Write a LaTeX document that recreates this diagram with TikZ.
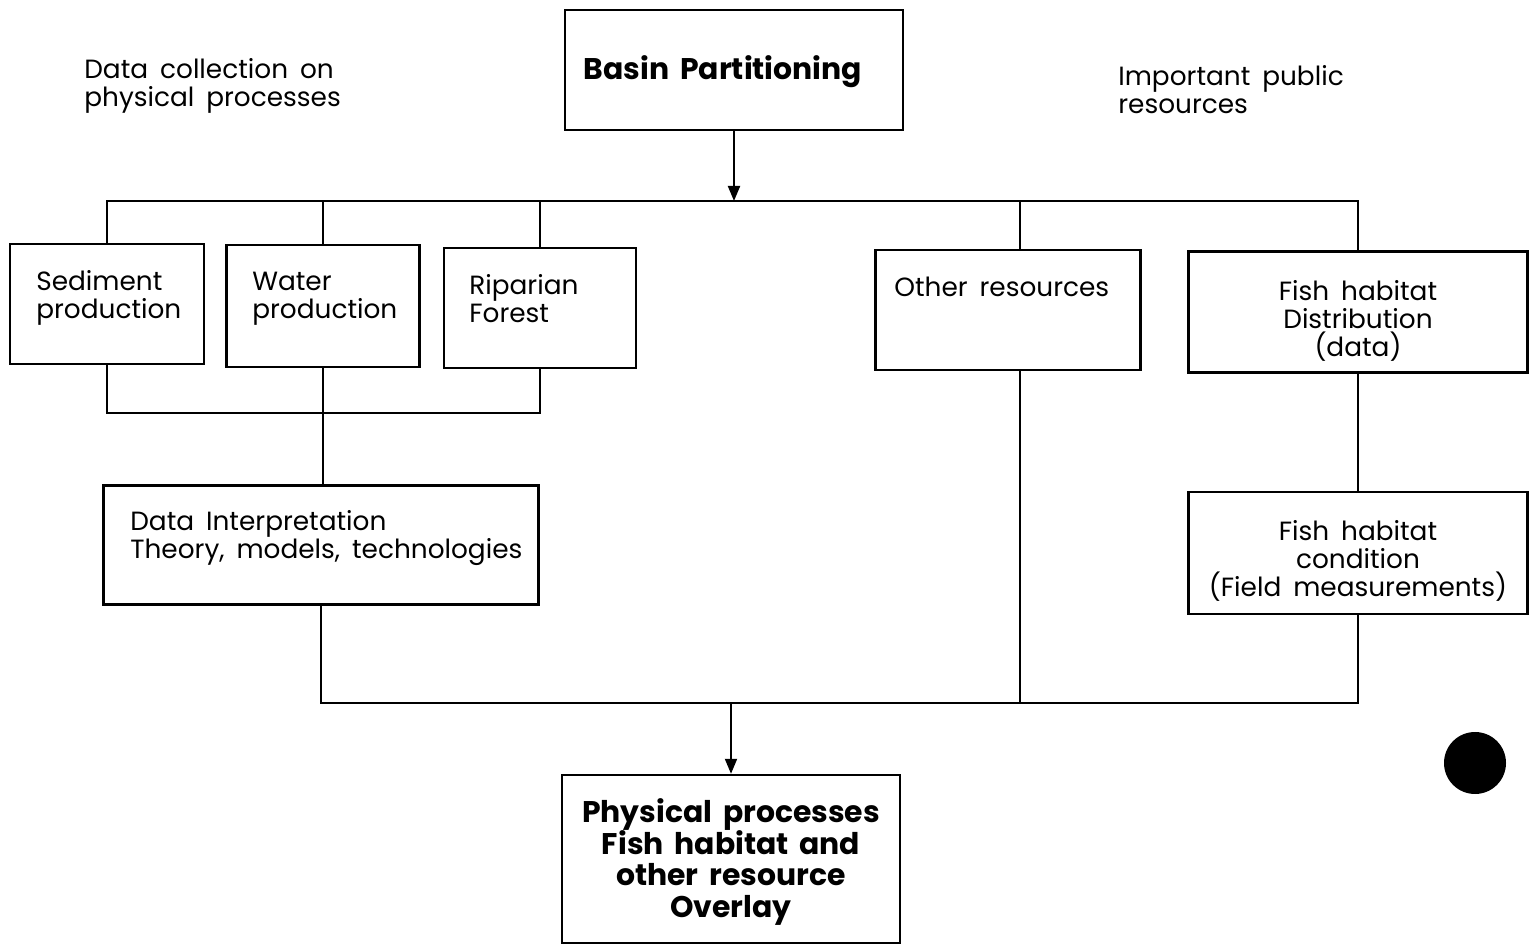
\documentclass[tikz,border=0pt]{standalone}
\usepackage{fontspec}
\setmainfont{Poppins}[WordSpace=1.7]
\usetikzlibrary{arrows.meta, positioning}

\tikzset{
	box/.style={draw, line width=1.4pt, inner sep=0pt},
	txt/.style={inner sep=0pt, font=\fontsize{15}{15.9}\selectfont},
	bigtxt/.style={inner sep=0pt, font=\fontsize{17}{18.2}\selectfont\bfseries},
	link/.style={line width=1.1pt},
	arr/.style={line width=1.1pt, -{Triangle[length=0.3cm, width=0.24cm]}}
}

\begin{document}
\begin{tikzpicture}[x=0.02cm, y=-0.02cm]
				\useasboundingbox (0,0) rectangle (1529,945);

				\node[box, minimum width=6.76cm, minimum height=2.4cm] (basin) at (734,70) {};
				\node[bigtxt] (basintxt) at (723,72) {Basin Partitioning};

				\node[txt, align=left, anchor=north west] (collect) at (84,58) {Data collection on\\physical processes};
				\node[txt, align=left, anchor=north west] (public) at (1118,65) {Important public\\resources};

				\node[box, minimum width=3.88cm, minimum height=2.4cm] (sed) at (107,304) {};
				\node[txt, align=left, anchor=north west] (sedtxt) at (36,270) {Sediment\\production};

				\node[box, minimum width=3.86cm, minimum height=2.44cm] (wat) at (323,306) {};
				\node[txt, align=left, anchor=north west] (wattxt) at (252,272) {Water\\production};

				\node[box, minimum width=3.84cm, minimum height=2.4cm] (rip) at (540,308) {};
				\node[txt, align=left, anchor=north west] (riptxt) at (469,274) {Riparian\\Forest};

				\node[box, minimum width=5.3cm, minimum height=2.4cm] (oth) at (1008,310) {};
				\node[txt, align=left, anchor=north west] (othtxt) at (894,277) {Other resources};

				\node[box, minimum width=6.78cm, minimum height=2.42cm] (fdist) at (1358,312) {};
				\node[txt, align=center, anchor=north] (fdisttxt) at (1358,280) {Fish habitat\\Distribution\\(data)};

				\node[box, minimum width=8.7cm, minimum height=2.38cm] (interp) at (321,545) {};
				\node[txt, align=left, anchor=north west] (interptxt) at (130,510) {Data Interpretation\\Theory, models, technologies};

				\node[box, minimum width=6.78cm, minimum height=2.44cm] (fcond) at (1358,553) {};
				\node[txt, align=center, anchor=north] (fcondtxt) at (1358,520) {Fish habitat\\condition\\(Field measurements)};

				\node[box, minimum width=6.76cm, minimum height=3.36cm] (phys) at (731,859) {};
				\node[bigtxt, align=center] (phystxt) at (731,862) {Physical processes\\Fish habitat and\\other resource\\Overlay};

				\coordinate (tbus) at (734,201);
				\coordinate (lbus) at (323,413);
				\coordinate (bbus) at (731,703);

				\draw[arr] (basin.south) -- (tbus);
				\draw[link] (sed.north) |- (tbus) -| (fdist.north);
				\draw[link] (wat.north) -- (wat.north |- tbus);
				\draw[link] (rip.north) -- (rip.north |- tbus);
				\draw[link] ([xshift=0.24cm]oth.north) -- ([xshift=0.24cm]oth.north |- tbus);

				\draw[link] (sed.south) |- (lbus) -| (rip.south);
				\draw[link] (wat.south) -- (wat.south |- interp.north);

				\draw[link] (interp.south) |- (bbus) -| (fcond.south);
				\draw[link] ([xshift=0.24cm]oth.south) -- ([xshift=0.24cm]oth.south |- bbus);
				\draw[link] (fdist.south) -- (fcond.north);
				\draw[arr] (bbus) -- (phys.north);

				\fill (1475,763) circle (31);
\end{tikzpicture}
\end{document}
